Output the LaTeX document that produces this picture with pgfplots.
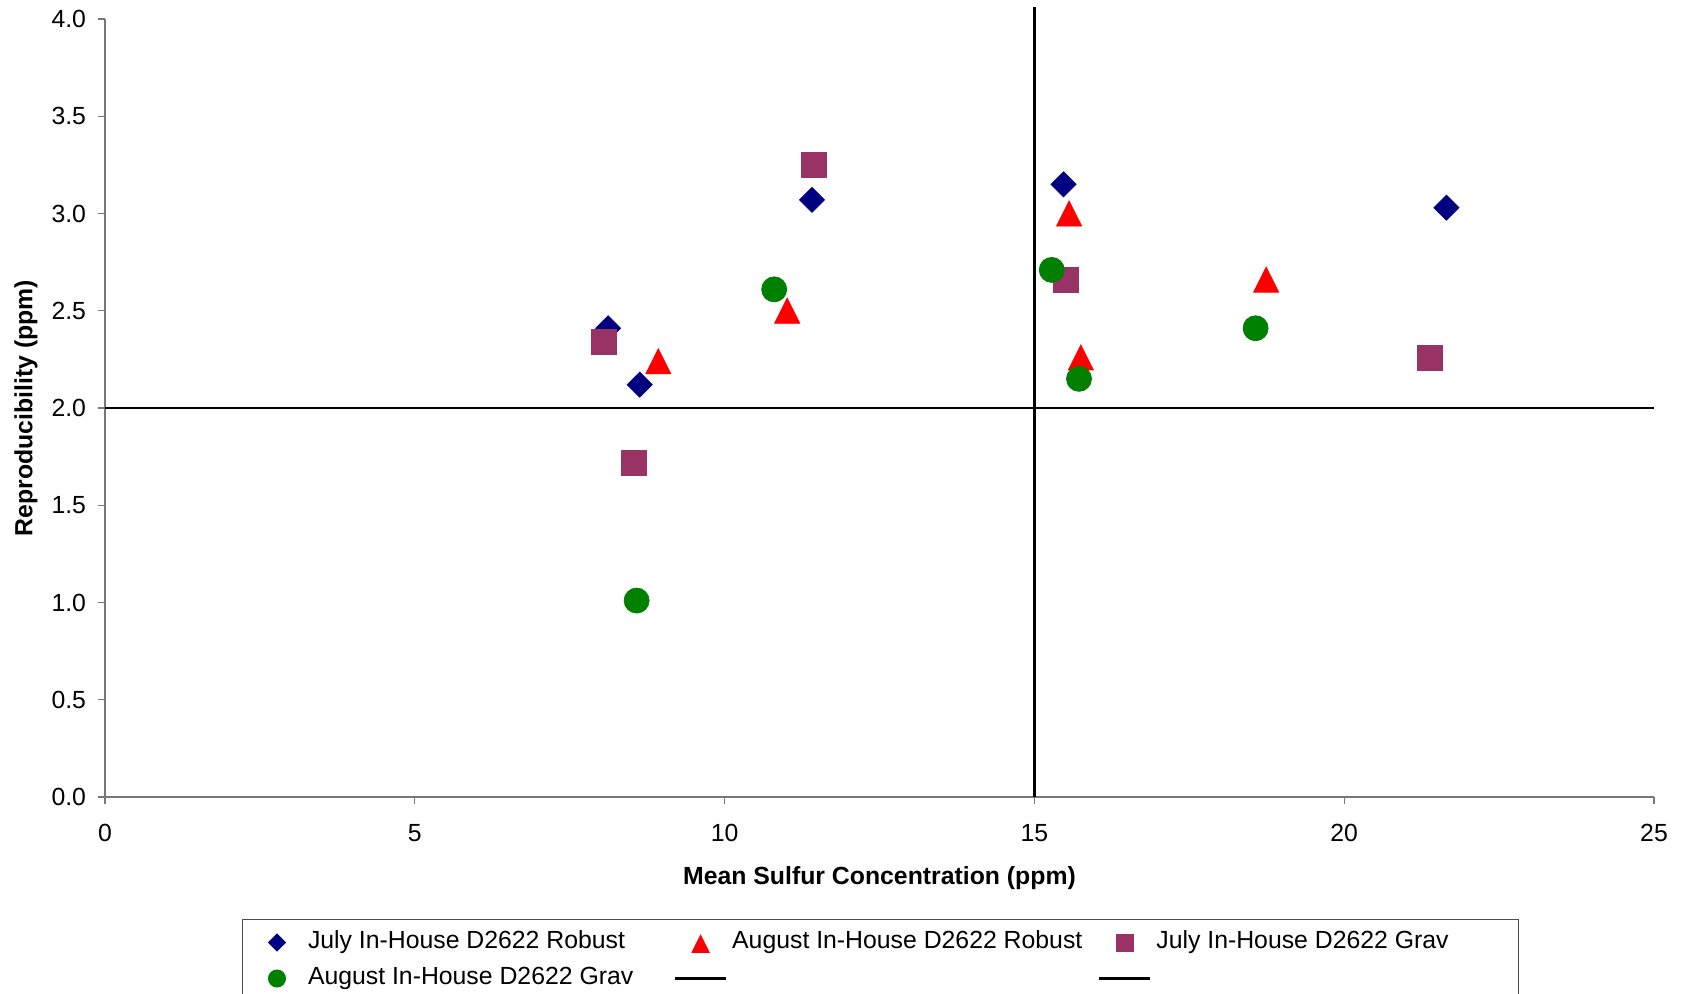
\documentclass[border=0pt]{standalone}
\usepackage{pgfplots}
\pgfplotsset{compat=1.18}
\usepackage{fontspec}
\setmainfont{Liberation Sans}
\definecolor{cNavy}{RGB}{0,0,128}
\definecolor{cRed}{RGB}{255,0,0}
\definecolor{cPlum}{RGB}{153,51,102}
\definecolor{cGreen}{RGB}{0,128,0}
\definecolor{axgray}{RGB}{120,120,120}
\newcommand{\fs}{\fontsize{12.4}{14.8}\selectfont}
\pgfplotsset{
  markleg/.style={legend image code/.code={
    \path (0pt,0pt) (25.5pt,0pt);
    \draw[##1, every mark/.append style={scale=0.68}] plot coordinates {(12.75pt,0pt)};
  }},
  lineleg/.style={legend image code/.code={
    \draw[##1] (0pt,0pt) -- (25.5pt,0pt);
  }},
}
\begin{document}
\begin{tikzpicture}
\begin{axis}[
  at={(0pt,0pt)}, anchor=south west,
  scale only axis, width=774.5pt, height=389pt,
  xmin=0, xmax=25, ymin=0, ymax=4,
  axis x line=bottom, axis y line=left,
  axis line style={-, draw=axgray, line width=0.6pt},
  tick style={draw=axgray, line width=0.6pt},
  tick align=outside, major tick length=3.25pt,
  xtick={0,5,10,15,20,25}, ytick={0,0.5,1,1.5,2,2.5,3,3.5,4},
  minor tick num=0,
  yticklabel style={/pgf/number format/fixed, /pgf/number format/fixed zerofill, /pgf/number format/precision=1, xshift=-2.7pt},
  xticklabel style={yshift=-7pt},
  /pgf/number format/assume math mode=true,
  tick label style={font=\fs, text=black},
  clip=false,
  xlabel={Mean Sulfur Concentration (ppm)},
  ylabel={Reproducibility (ppm)},
  label style={font=\fs\bfseries},
  xlabel style={at={(axis description cs:0.5,-0.1045)}, anchor=center},
  ylabel style={at={(axis description cs:-0.051,0.5)}, anchor=center},
  legend columns=3,
  legend cell align=left,
  legend style={at={(axis description cs:0.08864,-0.1568)}, anchor=north west,
    draw=black!70, line width=0.5pt, font=\fs, inner xsep=4.1pt, inner ysep=2.5pt,
    nodes={inner xsep=0pt, inner ysep=3pt, text height=9pt, text depth=3pt},
    /tikz/every odd column/.append style={column sep=2.5pt},
    /tikz/every even column/.append style={column sep=3pt}},
]
\addplot[only marks, mark=square*, color=cNavy, mark size=4.42pt, mark options={rotate=45}, markleg]
  coordinates {(8.12,2.41) (8.63,2.12) (11.41,3.07) (15.47,3.15) (21.65,3.03)};
\addlegendentry{\makebox[180pt][l]{July In-House D2622 Robust}}
\addplot[only marks, mark=triangle*, color=cRed, mark size=8.33pt, mark options={xscale=0.866, yshift=-2.08pt}, markleg]
  coordinates {(8.93,2.24) (11.01,2.50) (15.56,3.00) (18.74,2.66) (15.75,2.26)};
\addlegendentry{\makebox[180pt][l]{August In-House D2622 Robust}}
\addplot[only marks, mark=square*, color=cPlum, mark size=6.25pt, markleg]
  coordinates {(8.05,2.34) (8.53,1.72) (11.44,3.25) (15.51,2.66) (21.38,2.26)};
\addlegendentry{\makebox[177pt][l]{July In-House D2622 Grav}}
\addplot[only marks, mark=*, color=cGreen, mark size=6.25pt, markleg]
  coordinates {(8.58,1.01) (10.80,2.61) (15.28,2.71) (18.57,2.41) (15.72,2.15)};
\addlegendentry{August In-House D2622 Grav}
\addplot[black, line width=1.1pt, no marks, lineleg]
  coordinates {(0,2) (25,2)};
\addlegendentry{}
\addplot[black, line width=1.1pt, no marks, lineleg]
  coordinates {(15,0) (15,4.06)};
\addlegendentry{}
\end{axis}
\pgfresetboundingbox
\path[use as bounding box] (-52.5pt,-98pt) rectangle (789.5pt,398.5pt);
\end{tikzpicture}
\end{document}
